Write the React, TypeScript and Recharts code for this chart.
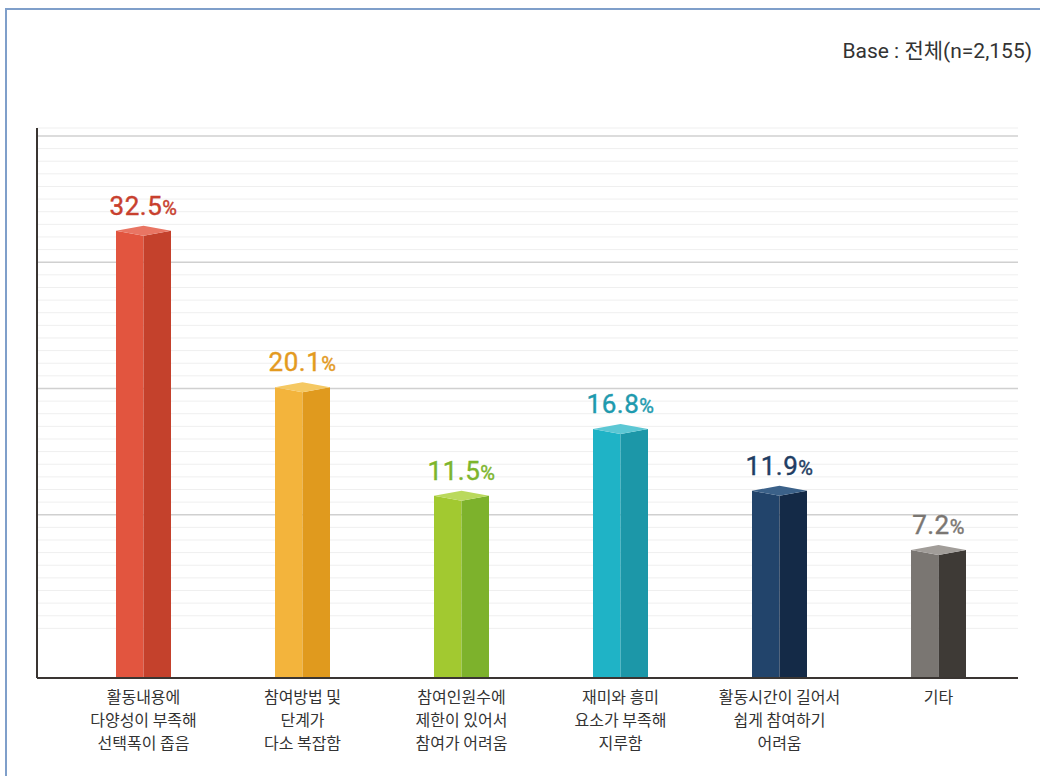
import React from 'react';
import { BarChart, Bar, XAxis, YAxis, CartesianGrid } from 'recharts';

const categories = [
  '활동내용에\n다양성이 부족해\n선택폭이 좁음',
  '참여방법 및\n단계가\n다소 복잡함',
  '참여인원수에\n제한이 있어서\n참여가 어려움',
  '재미와 흥미\n요소가 부족해\n지루함',
  '활동시간이 길어서\n쉽게 참여하기\n어려움',
  '기타',
];
const values = [32.5, 20.1, 11.5, 16.8, 11.9, 7.2];

const frontColors = ['#E2553F', '#F3B43C', '#A2C930', '#1FB3C6', '#22446B', '#7A7672'];
const sideColors = ['#C4412C', '#E09A1E', '#7DB22C', '#1C97A8', '#142A47', '#3E3A36'];
const capColors = ['#E97563', '#F5C862', '#BAD95C', '#5CC7D4', '#3B6189', '#A19D99'];
const labelColors = ['#C8402E', '#E39A1F', '#7DB52C', '#1E9AAE', '#1F3D63', '#7A7672'];

// one grid line per percent, a darker one every 10
const gridTicks = [1, 2, 3, 4, 5, 6, 7, 8, 9, 10, 11, 12, 13, 14, 15, 16, 17, 18, 19, 20,
  21, 22, 23, 24, 25, 26, 27, 28, 29, 30, 31, 32, 33, 34, 35, 36, 37, 38, 39, 40];
const axisTicks = [10, 20, 30, 40];

// axis runs a bit below zero and above 40, like the original artwork
const AXIS_FLOOR = -2.93;
const AXIS_TOP = 40.63;
const CAP = 5;

const data = categories.map((name, i) => ({ name, value: values[i] }));

const Bar3D = (props: any) => {
  const { x, y, width, height, index, payload } = props;
  const top = Math.min(y, y + height);
  const bottom = Math.max(y, y + height);
  const cx = x + width / 2;
  const r = x + width;
  return (
    <g>
      <polygon
        points={`${x},${top} ${cx},${top + CAP} ${cx},${bottom + CAP} ${x},${bottom}`}
        fill={frontColors[index]}
      />
      <polygon
        points={`${cx},${top + CAP} ${r},${top} ${r},${bottom} ${cx},${bottom + CAP}`}
        fill={sideColors[index]}
      />
      <polygon
        points={`${x},${top} ${cx},${top - CAP} ${r},${top} ${cx},${top + CAP}`}
        fill={capColors[index]}
      />
      <text
        x={cx}
        y={top - 16}
        textAnchor="middle"
        fill={labelColors[index]}
        stroke={labelColors[index]}
        strokeWidth={0.4}
        fontFamily="Roboto, 'Noto Sans', sans-serif"
        letterSpacing={0.5}
      >
        <tspan fontSize={26}>{payload.value.toFixed(1)}</tspan>
        <tspan fontSize={20}>%</tspan>
      </text>
    </g>
  );
};

const CategoryTick = (props: any) => {
  const { x, y, payload } = props;
  const lines = String(payload.value).split('\n');
  return (
    <g>
      {lines.map((line, i) => (
        <text
          key={i}
          x={x}
          y={y + 25 + i * 23.2}
          textAnchor="middle"
          fill="#333"
          fontSize={16}
          fontFamily="'Noto Sans CJK KR', sans-serif"
        >
          {line}
        </text>
      ))}
    </g>
  );
};

const GridLine = (props: any) => {
  const { x1, y1, x2, y2, index } = props;
  const major = gridTicks[index] % 10 === 0;
  return (
    <line
      x1={x1}
      y1={y1}
      x2={x2}
      y2={y2}
      stroke={major ? '#D0D0D0' : '#EFEFEF'}
      strokeWidth={major ? 1.5 : 1}
    />
  );
};

export default function App() {
  return (
    <div style={{ position: 'absolute', left: 0, top: 0, width: 1040, height: 776, background: '#fff' }}>
      <div
        style={{
          position: 'absolute',
          left: 5,
          top: 8,
          right: 0,
          bottom: 0,
          borderTop: '2px solid #7F9FCA',
          borderLeft: '2px solid #7F9FCA',
        }}
      />
      <div
        style={{
          position: 'absolute',
          right: 8,
          top: 34,
          fontSize: 21,
          color: '#333',
          fontFamily: "Roboto, 'Noto Sans CJK KR', sans-serif",
        }}
      >
        Base : 전체(n=2,155)
      </div>
      <div style={{ position: 'absolute', left: 0, top: 0 }}>
        <BarChart
          width={1040}
          height={776}
          data={data}
          margin={{ top: 128, right: 22, bottom: 8, left: 0 }}
        >
          <CartesianGrid vertical={false} yAxisId="grid" horizontal={GridLine} />
          <XAxis
            dataKey="name"
            interval={0}
            height={90}
            padding={{ left: 27, right: 0 }}
            tickLine={false}
            tickSize={0}
            tickMargin={0}
            axisLine={{ stroke: '#3A3532', strokeWidth: 2 }}
            tick={<CategoryTick />}
          />
          <YAxis
            yAxisId="axis"
            type="number"
            domain={[AXIS_FLOOR, AXIS_TOP]}
            ticks={axisTicks}
            interval={0}
            allowDataOverflow
            width={37}
            tick={false}
            tickLine={false}
            axisLine={{ stroke: '#3A3532', strokeWidth: 2 }}
          />
          <YAxis
            yAxisId="grid"
            type="number"
            domain={[AXIS_FLOOR, AXIS_TOP]}
            ticks={gridTicks}
            interval={0}
            allowDataOverflow
            hide
          />
          <Bar
            yAxisId="axis"
            dataKey={(d: any) => [AXIS_FLOOR, d.value]}
            barSize={55}
            shape={Bar3D}
            isAnimationActive={false}
          />
        </BarChart>
      </div>
    </div>
  );
}
